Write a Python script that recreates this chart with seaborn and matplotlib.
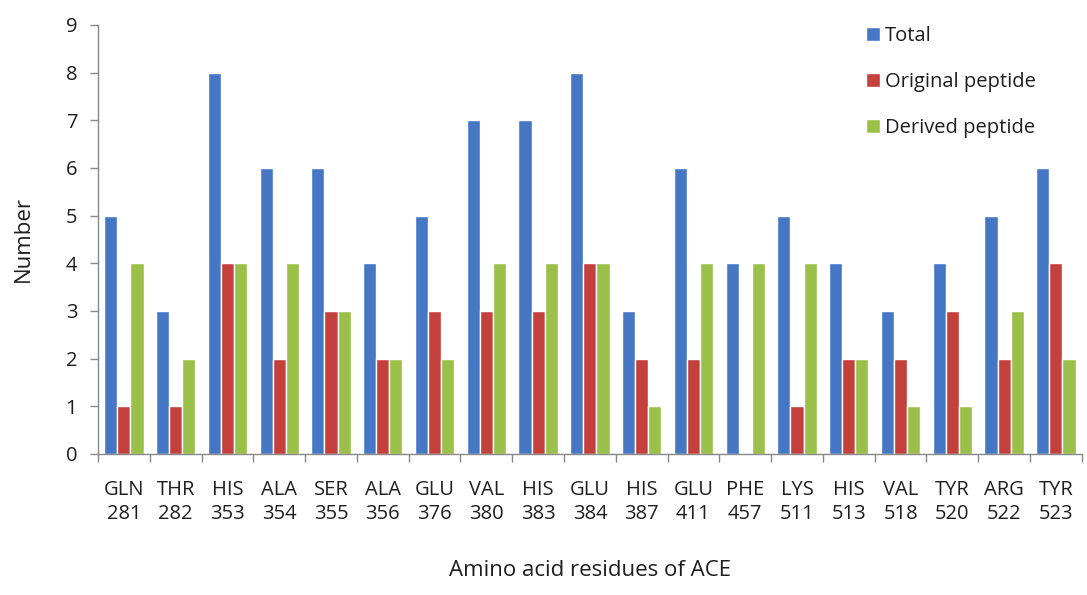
import matplotlib
matplotlib.use("Agg")
import matplotlib.pyplot as plt
import seaborn as sns
import pandas as pd
import numpy as np

residues = ["GLN\n281", "THR\n282", "HIS\n353", "ALA\n354", "SER\n355", "ALA\n356",
            "GLU\n376", "VAL\n380", "HIS\n383", "GLU\n384", "HIS\n387", "GLU\n411",
            "PHE\n457", "LYS\n511", "HIS\n513", "VAL\n518", "TYR\n520", "ARG\n522",
            "TYR\n523"]
total = [5, 3, 8, 6, 6, 4, 5, 7, 7, 8, 3, 6, 4, 5, 4, 3, 4, 5, 6]
original = [1, 1, 4, 2, 3, 2, 3, 3, 3, 4, 2, 2, 0, 1, 2, 2, 3, 2, 4]
derived = [4, 2, 4, 4, 3, 2, 2, 4, 4, 4, 1, 4, 4, 4, 2, 1, 1, 3, 2]
series_names = ["Total", "Original peptide", "Derived peptide"]
colors = ["#4677C5", "#C4403C", "#9BC04A"]

df = pd.DataFrame({
    "Residue": residues * 3,
    "Series": np.repeat(series_names, len(residues)),
    "Count": total + original + derived,
})

sns.set_theme(style="white")
plt.rcParams["font.family"] = ["Open Sans", "DejaVu Sans"]

fig = plt.figure(figsize=(10.87, 5.95), dpi=100)
ax = fig.add_axes([0.0902, 0.237, 0.905, 0.721])

sns.barplot(data=df, x="Residue", y="Count", hue="Series", order=residues,
            hue_order=series_names, palette=colors, width=0.76, gap=0,
            saturation=1, ax=ax, errorbar=None)

ax.set_ylim(0, 9)
ax.set_yticks(range(0, 10))
ax.set_xlim(-0.5, len(residues) - 0.5)

# tick marks sit between categories, labels at category centres
ax.set_xticks(np.arange(len(residues)))
ax.set_xticklabels(residues, fontsize=14.5, color="#1e1e1e", linespacing=1.25)
ax.set_xticks(np.arange(-0.5, len(residues), 1.0), minor=True)
ax.tick_params(axis="x", which="major", length=0, pad=19)
ax.tick_params(axis="x", which="minor", length=6, width=1, color="#888888",
               direction="out", bottom=True)
ax.tick_params(axis="y", length=6, width=1, color="#888888", direction="out",
               left=True, labelsize=14.5, labelcolor="#1e1e1e", pad=9)

for side in ["top", "right"]:
    ax.spines[side].set_visible(False)
for side in ["left", "bottom"]:
    ax.spines[side].set_color("#888888")
    ax.spines[side].set_linewidth(1)

ax.set_xlabel("Amino acid residues of ACE", fontsize=16, color="#1e1e1e", labelpad=26)
ax.set_ylabel("Number", fontsize=16, color="#1e1e1e", labelpad=23)

leg = ax.legend(loc="upper left", bbox_to_anchor=(866 / 1087, 1 - 26 / 595),
                bbox_transform=fig.transFigure, frameon=False, borderpad=0,
                borderaxespad=0, fontsize=14.5, labelspacing=1.3,
                handlelength=0.7, handleheight=0.7, handletextpad=0.25,
                title=None)
for t in leg.get_texts():
    t.set_color("#1e1e1e")

fig.savefig("out.png", dpi=100)
